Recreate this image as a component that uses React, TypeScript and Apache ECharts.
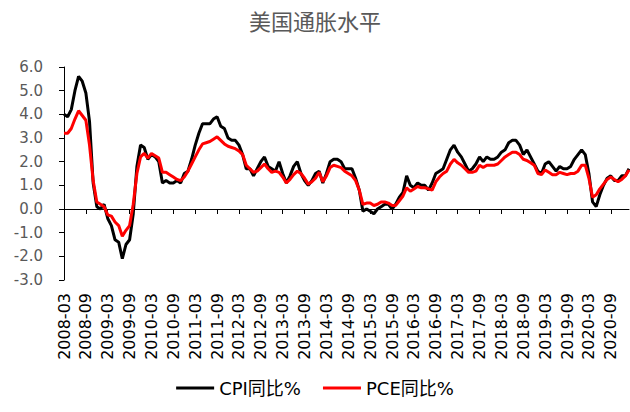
import React, { useEffect, useRef } from "react";
import * as echarts from "echarts";

// Months from 2008-03 to 2021-02
const startYear = 2008;
const startMonth = 3;
const monthCount = 156;
const months: string[] = [];
for (let i = 0; i < monthCount; i++) {
  const t = startMonth - 1 + i;
  const y = startYear + Math.floor(t / 12);
  const m = (t % 12) + 1;
  months.push(`${y}-${m < 10 ? "0" + m : m}`);
}

const cpiYoY: number[] = [
  // 2008-03 .. 2008-12
  4.0, 3.9, 4.2, 5.0, 5.6, 5.4, 4.9, 3.7, 1.1, 0.1,
  // 2009
  0.0, 0.2, -0.4, -0.7, -1.3, -1.4, -2.1, -1.5, -1.3, -0.2, 1.8, 2.7,
  // 2010
  2.6, 2.1, 2.3, 2.2, 2.0, 1.1, 1.2, 1.1, 1.1, 1.2, 1.1, 1.5,
  // 2011
  1.6, 2.1, 2.7, 3.2, 3.6, 3.6, 3.6, 3.8, 3.9, 3.5, 3.4, 3.0,
  // 2012
  2.9, 2.9, 2.7, 2.3, 1.7, 1.7, 1.4, 1.7, 2.0, 2.2, 1.8, 1.7,
  // 2013
  1.6, 2.0, 1.5, 1.1, 1.4, 1.8, 2.0, 1.5, 1.2, 1.0, 1.2, 1.5,
  // 2014
  1.6, 1.1, 1.5, 2.0, 2.1, 2.1, 2.0, 1.7, 1.7, 1.7, 1.3, 0.8,
  // 2015
  -0.1, 0.0, -0.1, -0.2, 0.0, 0.1, 0.2, 0.2, 0.0, 0.2, 0.5, 0.7,
  // 2016
  1.4, 1.0, 0.9, 1.1, 1.0, 1.0, 0.8, 1.1, 1.5, 1.6, 1.7, 2.1,
  // 2017
  2.5, 2.7, 2.4, 2.2, 1.9, 1.6, 1.7, 1.9, 2.2, 2.0, 2.2, 2.1,
  // 2018
  2.1, 2.2, 2.4, 2.5, 2.8, 2.9, 2.9, 2.7, 2.3, 2.5, 2.2, 1.9,
  // 2019
  1.6, 1.5, 1.9, 2.0, 1.8, 1.6, 1.8, 1.7, 1.7, 1.8, 2.1, 2.3,
  // 2020
  2.5, 2.3, 1.5, 0.3, 0.1, 0.6, 1.0, 1.3, 1.4, 1.2, 1.2, 1.4,
  // 2021-01 .. 2021-02
  1.4, 1.7,
];

const pceYoY: number[] = [
  // 2008-03 .. 2008-12
  3.2, 3.2, 3.4, 3.8, 4.15, 3.95, 3.75, 2.7, 1.2, 0.3,
  // 2009
  0.2, 0.1, -0.25, -0.3, -0.55, -0.7, -1.15, -0.9, -0.7, 0.2, 1.5, 2.2,
  // 2010
  2.35, 2.15, 2.35, 2.25, 2.15, 1.55, 1.55, 1.45, 1.35, 1.25, 1.2, 1.35,
  // 2011
  1.6, 1.9, 2.2, 2.5, 2.75, 2.8, 2.85, 2.95, 3.05, 2.9, 2.75, 2.65,
  // 2012
  2.6, 2.55, 2.45, 2.3, 1.85, 1.7, 1.55, 1.6, 1.75, 1.9, 1.7, 1.55,
  // 2013
  1.6, 1.55, 1.35, 1.1, 1.25, 1.45, 1.6, 1.5, 1.3, 1.05, 1.15, 1.3,
  // 2014
  1.55, 1.15, 1.4, 1.75, 1.85, 1.8, 1.75, 1.6, 1.5, 1.4, 1.2, 0.8,
  // 2015
  0.2, 0.25, 0.25, 0.15, 0.2, 0.3, 0.3, 0.25, 0.15, 0.15, 0.35, 0.55,
  // 2016
  0.9, 0.75, 0.85, 0.95, 0.9, 0.9, 0.85, 0.8, 1.15, 1.35, 1.5, 1.6,
  // 2017
  1.9, 2.1, 1.95, 1.85, 1.7, 1.55, 1.55, 1.6, 1.85, 1.75, 1.85, 1.85,
  // 2018
  1.85, 1.9, 2.05, 2.2, 2.3, 2.4, 2.4, 2.3, 2.1, 2.05, 1.95, 1.85,
  // 2019
  1.5, 1.45, 1.65, 1.55, 1.45, 1.45, 1.55, 1.5, 1.45, 1.5, 1.5, 1.6,
  // 2020
  1.85, 1.85, 1.3, 0.5, 0.6, 0.85, 1.05, 1.25, 1.35, 1.25, 1.15, 1.25,
  // 2021-01 .. 2021-02
  1.4, 1.65,
];

const titleText = "美国通胀水平";
const seriesNames = ["CPI同比%", "PCE同比%"];
const seriesColors = ["#000000", "#ff0000"];

export default function App() {
  const ref = useRef<HTMLDivElement>(null);
  useEffect(() => {
    document.body.style.margin = "0";
    if (!ref.current) return;
    const chart = echarts.init(ref.current, undefined, { renderer: "svg" });
    chart.setOption({
      animation: false,
      backgroundColor: "#ffffff",
      title: {
        text: titleText,
        left: "center",
        top: 4,
        textStyle: {
          fontFamily: "Noto Sans CJK SC",
          fontSize: 22,
          fontWeight: "normal",
          color: "#595959",
        },
      },
      legend: {
        data: seriesNames,
        bottom: 10,
        left: "center",
        icon: "rect",
        itemWidth: 38,
        itemHeight: 3,
        itemGap: 22,
        textStyle: {
          fontFamily: "DejaVu Sans, Noto Sans CJK SC",
          fontSize: 18,
          color: "#000000",
        },
      },
      grid: { left: 64, right: 1, top: 67, bottom: 132, containLabel: false },
      xAxis: [
        {
          type: "category",
          data: months,
          boundaryGap: false,
          position: "bottom",
          axisLine: { show: false, onZero: false },
          axisTick: { show: false },
          axisLabel: {
            interval: 5,
            rotate: 90,
            margin: 13,
            fontSize: 16,
            fontFamily: "DejaVu Sans",
            color: "#000000",
          },
          splitLine: { show: false },
        },
        {
          type: "category",
          data: months,
          boundaryGap: false,
          position: "bottom",
          axisLine: { show: true, onZero: true, lineStyle: { color: "#000000", width: 1 } },
          axisTick: { show: true, interval: 5, length: 5, lineStyle: { color: "#000000" } },
          axisLabel: { show: false },
          splitLine: { show: false },
        },
      ],
      yAxis: {
        type: "value",
        min: -3,
        max: 6,
        interval: 1,
        axisLine: { show: true, lineStyle: { color: "#000000", width: 1 } },
        axisTick: { show: true, length: 5, lineStyle: { color: "#000000" } },
        axisLabel: {
          formatter: (v: number) => v.toFixed(1),
          fontSize: 15,
          fontFamily: "DejaVu Sans",
          color: "#595959",
          margin: 21,
        },
        splitLine: { show: false },
      },
      series: [
        {
          name: seriesNames[0],
          type: "line",
          xAxisIndex: 0,
          data: cpiYoY,
          symbol: "none",
          color: seriesColors[0],
          lineStyle: { color: seriesColors[0], width: 3 },
        },
        {
          name: seriesNames[1],
          type: "line",
          xAxisIndex: 0,
          data: pceYoY,
          symbol: "none",
          color: seriesColors[1],
          lineStyle: { color: seriesColors[1], width: 3 },
        },
      ],
    });
    return () => chart.dispose();
  }, []);
  return <div ref={ref} style={{ width: 630, height: 412 }} />;
}
